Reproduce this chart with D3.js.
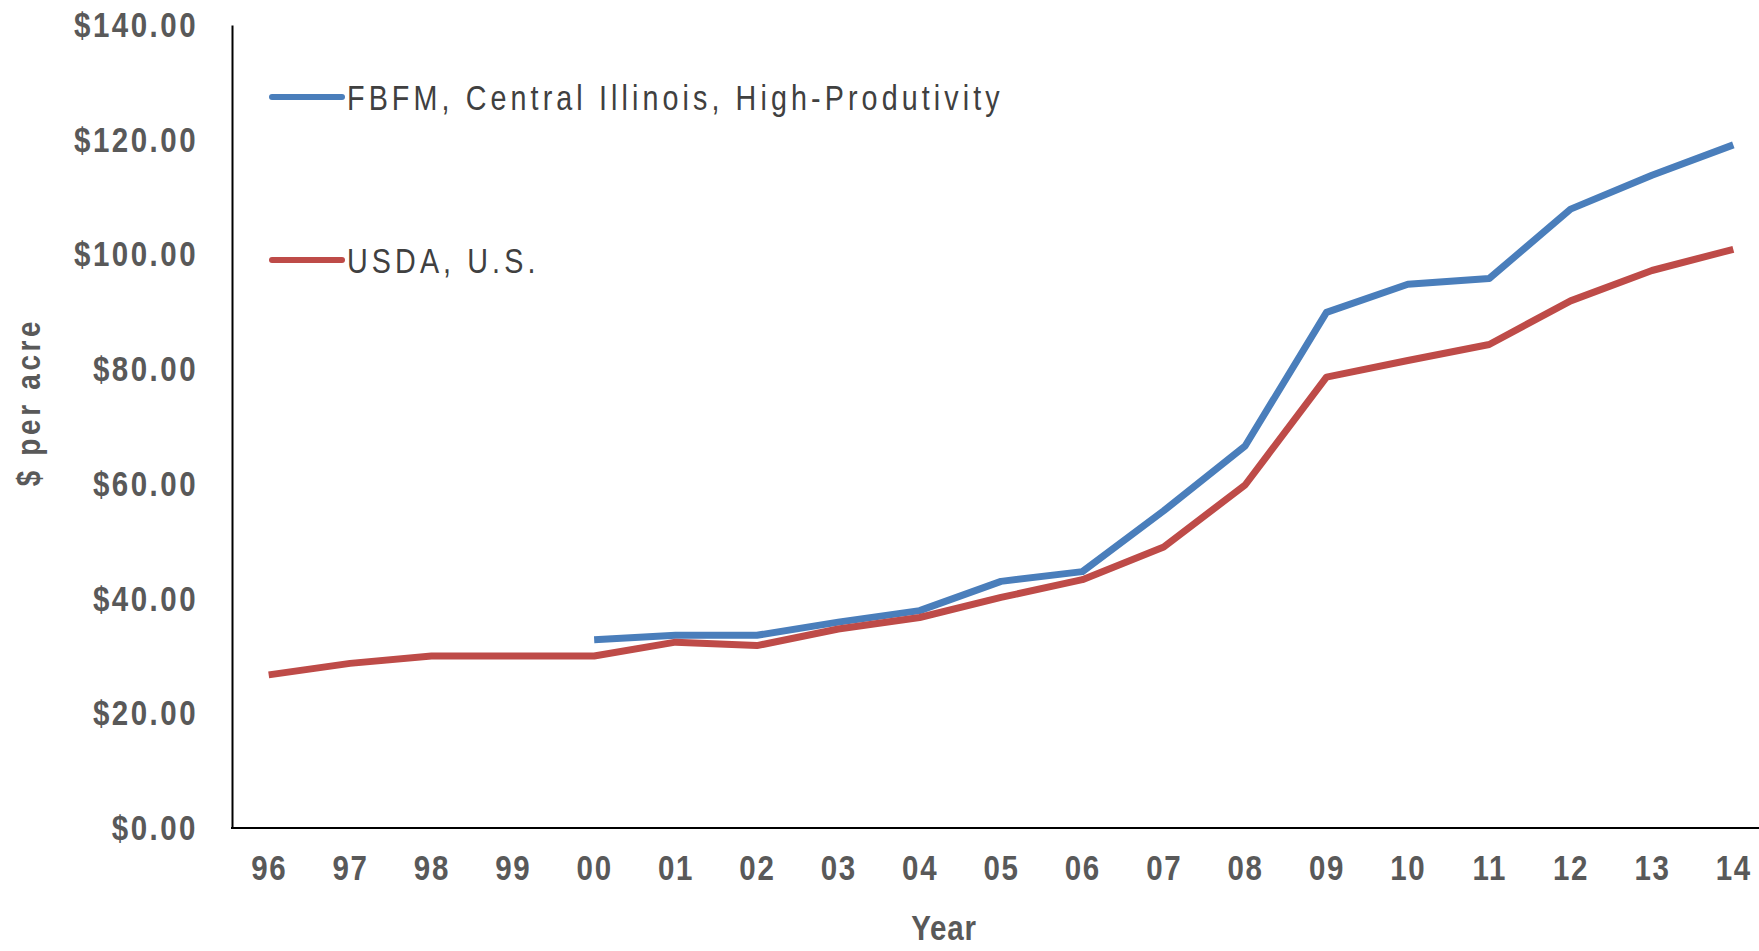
<!DOCTYPE html>
<html>
<head>
<meta charset="utf-8">
<script src="https://cdn.jsdelivr.net/npm/d3@7"></script>
<style>
  body { margin: 0; background: #fff; }
  text { font-family: "Liberation Sans", Arial, sans-serif; }
</style>
</head>
<body>
<div id="chart"></div>
<script>
const years = ["96","97","98","99","00","01","02","03","04","05","06","07","08","09","10","11","12","13","14"];
// FBFM series has no values before 2000
const fbfm = [null,null,null,null,32.8,33.6,33.6,35.9,37.9,43.0,44.7,55.3,66.6,89.9,94.8,95.8,107.9,113.8,119.1];
const usda = [26.7,28.7,30.0,30.0,30.0,32.4,31.8,34.7,36.7,40.2,43.3,49.0,59.8,78.6,81.5,84.3,91.9,97.2,100.9];
const yTicks = [0,20,40,60,80,100,120,140];
const seriesNames = ["FBFM, Central Illinois, High-Produtivity", "USDA, U.S."];
const seriesColors = ["#4A7EBB", "#BE4B48"];

const width = 1759, height = 951;
const squeeze = 0.82; // the original font is a narrow one

const svg = d3.select("#chart").append("svg")
    .attr("width", width)
    .attr("height", height);

const x = d3.scalePoint().domain(years).range([228, 1774]).padding(0.5);
const y = d3.scaleLinear().domain([0, 140]).range([828, 25]);

function narrow(sel) {
  sel.each(function() {
    const t = d3.select(this);
    const x0 = +t.attr("x") || 0;
    t.attr("x", x0 / squeeze).attr("transform", `scale(${squeeze},1)`);
  });
}

// y axis
const yAxis = svg.append("g")
    .attr("transform", "translate(232,0)")
    .call(d3.axisLeft(y).tickValues(yTicks).tickSize(0).tickPadding(34).tickFormat(d3.format("$.2f")));
yAxis.select(".domain").attr("stroke", "#000").attr("stroke-width", 2);
yAxis.selectAll("text")
    .attr("fill", "#595959")
    .style("font-size", "36px")
    .style("font-weight", "bold")
    .style("letter-spacing", "3px")
    .call(narrow);

// x axis
const xAxis = svg.append("g")
    .attr("transform", "translate(0,828)")
    .call(d3.axisBottom(x).tickSize(0).tickPadding(26));
xAxis.select(".domain").remove();
xAxis.selectAll("text")
    .attr("fill", "#595959")
    .style("font-size", "36px")
    .style("font-weight", "bold")
    .style("letter-spacing", "2px")
    .call(narrow);
svg.append("line")
    .attr("x1", 231).attr("x2", width)
    .attr("y1", 828).attr("y2", 828)
    .attr("stroke", "#000").attr("stroke-width", 2);

// axis titles
svg.append("text")
    .attr("transform", `translate(40,402) rotate(-90) scale(${squeeze},1)`)
    .attr("text-anchor", "middle")
    .attr("fill", "#595959")
    .style("font-size", "34px")
    .style("font-weight", "bold")
    .style("letter-spacing", "4.5px")
    .text("$ per acre");

svg.append("text")
    .attr("transform", `translate(944,940) scale(${squeeze},1)`)
    .attr("text-anchor", "middle")
    .attr("fill", "#595959")
    .style("font-size", "36px")
    .style("font-weight", "bold")
    .style("letter-spacing", "1px")
    .text("Year");

// lines
const line = d3.line()
    .defined(d => d.v !== null)
    .x(d => x(d.year))
    .y(d => y(d.v));

[fbfm, usda].forEach((vals, i) => {
  const pts = years.map((yr, j) => ({year: yr, v: vals[j]}));
  svg.append("path")
    .datum(pts)
    .attr("fill", "none")
    .attr("stroke", seriesColors[i])
    .attr("stroke-width", 7)
    .attr("stroke-linejoin", "round")
    .attr("d", line);
});

// legend
const legendY = [97, 260];
const legend = svg.append("g");
seriesNames.forEach((name, i) => {
  legend.append("line")
    .attr("x1", 272).attr("x2", 342)
    .attr("y1", legendY[i]).attr("y2", legendY[i])
    .attr("stroke", seriesColors[i])
    .attr("stroke-width", 6)
    .attr("stroke-linecap", "round");
  legend.append("text")
    .attr("transform", `translate(347,${legendY[i]}) scale(${squeeze},1)`)
    .attr("dy", "0.36em")
    .attr("fill", "#404040")
    .style("font-size", "35px")
    .style("font-weight", "500")
    .style("letter-spacing", "5px")
    .text(name);
});
</script>
</body>
</html>
